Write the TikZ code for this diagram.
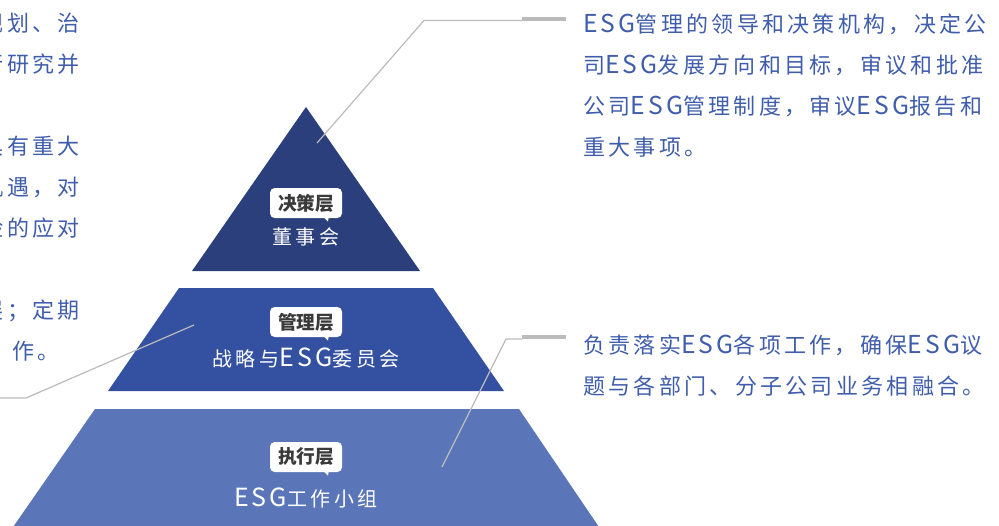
\documentclass[tikz,border=0pt]{standalone}
\usepackage{fontspec}
\newfontfamily\cjk{Noto Sans CJK SC}
\newfontfamily\cjkls{Noto Sans CJK SC}[LetterSpace=18]
\newfontfamily\cjkdesc{Noto Sans CJK SC}[LetterSpace=15]
\newfontfamily\esgd{Noto Sans CJK SC}[LetterSpace=13, Scale=1.12]
\newfontfamily\esgb{Noto Sans CJK SC}[LetterSpace=12, Scale=1.25]
\definecolor{navy}{HTML}{2A3F7B}
\definecolor{midblue}{HTML}{3451A1}
\definecolor{lightblue}{HTML}{5A76B8}
\definecolor{txtblue}{HTML}{3F5DAB}
\definecolor{linegray}{HTML}{BBBBBB}
\definecolor{labelgray}{HTML}{3A3A3A}
\newcommand{\bandESG}{{\esgb ESG}}
\newcommand{\descESG}{{\esgd ESG}}
\tikzset{
  desc/.style={inner sep=0pt, text=txtblue, font=\cjkdesc\fontsize{16.5}{20}\selectfont},
  descR/.style={desc, anchor=base west},
  descL/.style={desc, anchor=base east},
  bandtext/.style={inner sep=0pt, anchor=base, text=white, font=\cjkls\fontsize{15}{18}\selectfont},
  tagbox/.style={fill=white, rounded corners=3.5pt, minimum width=54pt, minimum height=22.5pt, inner sep=0pt,
    text=labelgray, font=\cjk\bfseries\fontsize{14}{16}\selectfont},
  conn/.style={draw=linegray, line width=0.9pt},
  bar/.style={draw=linegray, line width=3pt}
}
\begin{document}
\begin{tikzpicture}[x=0.75pt,y=-0.75pt]
\clip (0,0) rectangle (999,525);
% pyramid bands
\fill[navy] (306,107) -- (420,271) -- (192,271) -- cycle;
\fill[midblue] (179,288) -- (433,288) -- (504,391) -- (108,391) -- cycle;
\fill[lightblue] (95,409) -- (519,409) -- (601,530) -- (11,530) -- cycle;

% tags
\node[tagbox] (tag1) at (306,203) {决策层};
\fill[white] ([xshift=13.5pt,yshift=0.5pt]tag1.south) -- ([xshift=17pt,yshift=0.5pt]tag1.south) -- ([xshift=16.5pt,yshift=-2.5pt]tag1.south) -- cycle;
\node[tagbox] (tag2) at (306,322) {管理层};
\fill[white] ([xshift=13.5pt,yshift=0.5pt]tag2.south) -- ([xshift=17pt,yshift=0.5pt]tag2.south) -- ([xshift=16.5pt,yshift=-2.5pt]tag2.south) -- cycle;
\node[tagbox] (tag3) at (306,457) {执行层};
\fill[white] ([xshift=13.5pt,yshift=0.5pt]tag3.south) -- ([xshift=17pt,yshift=0.5pt]tag3.south) -- ([xshift=16.5pt,yshift=-2.5pt]tag3.south) -- cycle;

% band titles
\node[bandtext] (t1) at (306,244) {董事会};
\node[bandtext] (t2) at (306,366) {战略与\bandESG 委员会};
\node[bandtext] (t3) at (306,506) {\bandESG 工作小组};

% connectors
\coordinate (c1s) at (317,143);
\coordinate (c1k) at (424,20.5);
\coordinate (c1e) at (522,20.5);
\draw[conn] (c1s) -- (c1k) -- (c1e);
\coordinate (b1s) at (522,18.7);
\coordinate (b1e) at (566,18.7);
\draw[bar] (b1s) -- (b1e);

\coordinate (c2s) at (442,467);
\coordinate (c2k) at (506,339);
\coordinate (c2e) at (522,339);
\draw[conn] (c2s) -- (c2k) -- (c2e);
\coordinate (b2s) at (522,337);
\coordinate (b2e) at (566,337);
\draw[bar] (b2s) -- (b2e);

\coordinate (c3s) at (194,325);
\coordinate (c3k) at (26,398);
\coordinate (c3e) at (-10,398);
\draw[conn] (c3s) -- (c3k) -- (c3e);

% right descriptions
\node[descR] (r1) at (583,32) {\descESG 管理的领导和决策机构，决定公};
\node[descR] (r2) at (583,73) {司\descESG 发展方向和目标，审议和批准};
\node[descR] (r3) at (583,114) {公司\descESG 管理制度，审议\descESG 报告和};
\node[descR] (r4) at (583,155) {重大事项。};
\node[descR] (r5) at (583,353) {负责落实\descESG 各项工作，确保\descESG 议};
\node[descR] (r6) at (583,394) {题与各部门、分子公司业务相融合。};

% left descriptions (cut off by the page edge)
\node[descL] (l1) at (80,31) {规划、治};
\node[descL] (l2) at (80,72) {行研究并};
\node[descL] (l4) at (80,154) {具有重大};
\node[descL] (l5) at (80,195) {机遇，对};
\node[descL] (l6) at (80,236) {险的应对};
\node[descL] (l8) at (80,318) {展；定期};
\node[descR] (l9) at (12,359) {作。};
\end{tikzpicture}
\end{document}
